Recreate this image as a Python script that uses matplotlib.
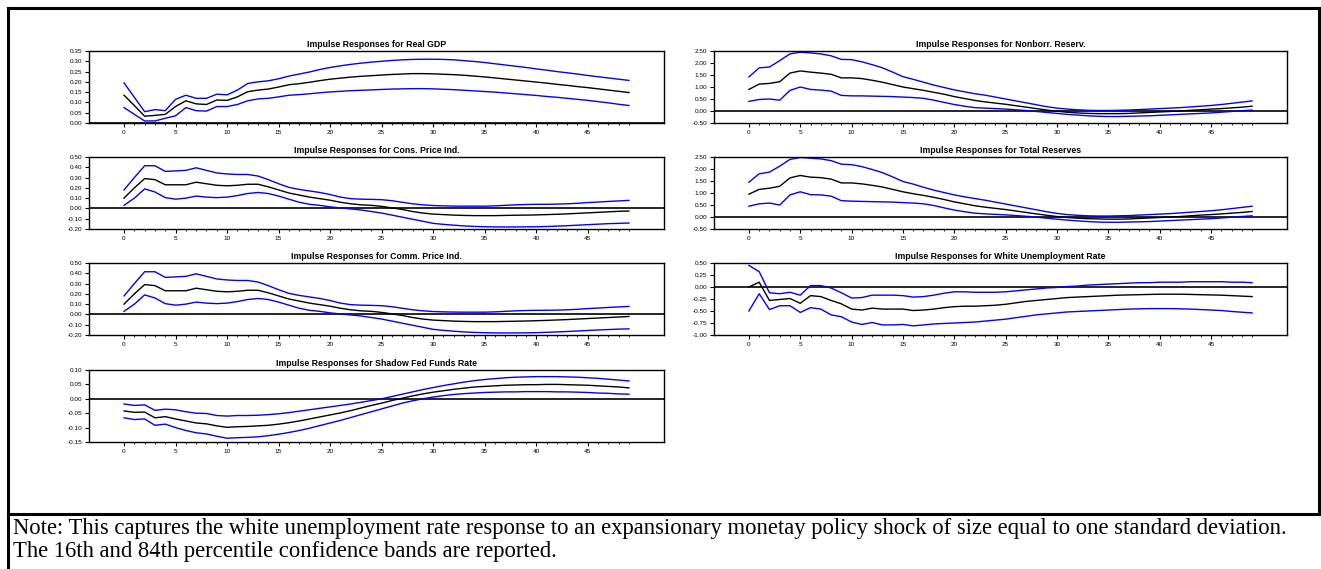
import numpy as np
import matplotlib
matplotlib.use("Agg")
import matplotlib.pyplot as plt
from matplotlib.lines import Line2D
from matplotlib.ticker import MultipleLocator, FormatStrFormatter

# horizons 0..49
steps = list(range(50))

gdp_mid = [0.135, 0.085, 0.033, 0.037, 0.042, 0.08, 0.108, 0.093, 0.09, 0.112,
           0.11, 0.127, 0.152, 0.16, 0.165, 0.175, 0.186, 0.191, 0.198, 0.206,
           0.213, 0.218, 0.223, 0.227, 0.23, 0.233, 0.236, 0.238, 0.24, 0.24,
           0.239, 0.237, 0.235, 0.232, 0.228, 0.224, 0.219, 0.214, 0.209, 0.204,
           0.199, 0.194, 0.188, 0.183, 0.177, 0.172, 0.166, 0.16, 0.154, 0.148]
gdp_up = [0.195, 0.125, 0.055, 0.065, 0.06, 0.115, 0.135, 0.12, 0.12, 0.14,
          0.137, 0.16, 0.192, 0.2, 0.205, 0.215, 0.228, 0.238, 0.248, 0.26,
          0.27, 0.278, 0.285, 0.291, 0.296, 0.3, 0.304, 0.307, 0.309, 0.31,
          0.31, 0.309, 0.307, 0.303, 0.299, 0.294, 0.288, 0.282, 0.276, 0.27,
          0.263, 0.257, 0.25, 0.244, 0.238, 0.231, 0.225, 0.219, 0.213, 0.207]
gdp_lo = [0.075, 0.042, 0.01, 0.01, 0.023, 0.035, 0.075, 0.06, 0.058, 0.08,
          0.08, 0.09, 0.108, 0.117, 0.12, 0.127, 0.135, 0.138, 0.142, 0.147,
          0.151, 0.154, 0.157, 0.159, 0.161, 0.163, 0.165, 0.166, 0.167, 0.167,
          0.166, 0.164, 0.162, 0.159, 0.156, 0.153, 0.15, 0.146, 0.142, 0.138,
          0.134, 0.129, 0.125, 0.12, 0.115, 0.11, 0.104, 0.098, 0.091, 0.085]

nbr_mid = [0.9, 1.12, 1.15, 1.22, 1.58, 1.67, 1.62, 1.58, 1.53, 1.38,
           1.38, 1.35, 1.28, 1.2, 1.1, 1.0, 0.93, 0.86, 0.78, 0.7,
           0.6, 0.52, 0.44, 0.38, 0.33, 0.28, 0.22, 0.16, 0.1, 0.04,
           -0.01, -0.05, -0.08, -0.1, -0.11, -0.11, -0.11, -0.1, -0.08, -0.06,
           -0.04, -0.02, 0.0, 0.03, 0.05, 0.08, 0.1, 0.13, 0.16, 0.2]
nbr_up = [1.42, 1.8, 1.83, 2.1, 2.38, 2.45, 2.42, 2.38, 2.3, 2.15,
          2.14, 2.05, 1.93, 1.8, 1.62, 1.43, 1.32, 1.2, 1.08, 0.98,
          0.88, 0.8, 0.72, 0.66, 0.58, 0.5, 0.42, 0.34, 0.26, 0.18,
          0.12, 0.08, 0.05, 0.03, 0.02, 0.02, 0.03, 0.04, 0.06, 0.08,
          0.1, 0.12, 0.14, 0.17, 0.2, 0.23, 0.27, 0.32, 0.37, 0.42]
nbr_lo = [0.4, 0.48, 0.5, 0.45, 0.86, 1.0, 0.9, 0.87, 0.83, 0.65,
          0.63, 0.63, 0.62, 0.61, 0.6, 0.58, 0.56, 0.53, 0.45, 0.36,
          0.27, 0.2, 0.14, 0.12, 0.1, 0.08, 0.05, 0.02, -0.02, -0.06,
          -0.1, -0.14, -0.17, -0.2, -0.22, -0.23, -0.23, -0.22, -0.21, -0.2,
          -0.18, -0.16, -0.14, -0.12, -0.1, -0.08, -0.05, -0.02, 0.01, 0.04]

cpi_mid = [0.1, 0.2, 0.29, 0.28, 0.23, 0.23, 0.23, 0.255, 0.24, 0.225,
           0.22, 0.225, 0.235, 0.235, 0.21, 0.18, 0.15, 0.13, 0.11, 0.095,
           0.08, 0.06, 0.045, 0.035, 0.03, 0.02, 0.005, -0.01, -0.03, -0.045,
           -0.055, -0.06, -0.065, -0.068, -0.07, -0.07, -0.07, -0.068, -0.066, -0.065,
           -0.063, -0.06, -0.057, -0.053, -0.048, -0.043, -0.038, -0.033, -0.028, -0.025]
cpi_up = [0.18, 0.3, 0.415, 0.415, 0.36, 0.365, 0.37, 0.395, 0.37, 0.345,
          0.335, 0.33, 0.33, 0.315, 0.28, 0.24, 0.205, 0.185, 0.17, 0.155,
          0.135, 0.11, 0.095, 0.09, 0.088, 0.085, 0.075, 0.06, 0.045, 0.035,
          0.028, 0.025, 0.023, 0.022, 0.022, 0.022, 0.025, 0.03, 0.035, 0.038,
          0.04, 0.04, 0.042, 0.045, 0.05, 0.057, 0.062, 0.068, 0.073, 0.078]
cpi_lo = [0.03, 0.1, 0.19, 0.16, 0.105, 0.09, 0.1, 0.12, 0.11, 0.105,
          0.11, 0.125, 0.145, 0.155, 0.145, 0.12, 0.09, 0.06, 0.04, 0.03,
          0.015, 0.005, -0.005, -0.015, -0.03, -0.045, -0.065, -0.085, -0.105, -0.125,
          -0.145, -0.155, -0.163, -0.17, -0.175, -0.178, -0.18, -0.18, -0.18, -0.179,
          -0.178, -0.176, -0.172, -0.168, -0.163, -0.158, -0.153, -0.148, -0.145, -0.142]

tr_mid = [0.95, 1.15, 1.2, 1.28, 1.63, 1.73, 1.66, 1.64, 1.58, 1.42,
          1.42, 1.38, 1.32, 1.25, 1.15, 1.05, 0.97, 0.9, 0.82, 0.73,
          0.63, 0.55, 0.47, 0.41, 0.36, 0.31, 0.25, 0.19, 0.13, 0.07,
          0.02, -0.02, -0.05, -0.07, -0.08, -0.09, -0.09, -0.08, -0.06, -0.04,
          -0.02, 0.0, 0.02, 0.05, 0.08, 0.1, 0.13, 0.16, 0.19, 0.23]
tr_up = [1.45, 1.8, 1.87, 2.12, 2.4, 2.48, 2.45, 2.42, 2.35, 2.2,
         2.18, 2.1, 1.98, 1.85, 1.67, 1.48, 1.37, 1.24, 1.12, 1.02,
         0.92, 0.84, 0.77, 0.7, 0.62, 0.54, 0.46, 0.38, 0.3, 0.22,
         0.15, 0.1, 0.07, 0.05, 0.04, 0.04, 0.05, 0.06, 0.08, 0.1,
         0.12, 0.14, 0.17, 0.2, 0.23, 0.26, 0.3, 0.35, 0.4, 0.45]
tr_lo = [0.45, 0.55, 0.58, 0.5, 0.92, 1.05, 0.93, 0.92, 0.87, 0.68,
         0.66, 0.65, 0.64, 0.63, 0.62, 0.6, 0.58, 0.55, 0.48, 0.38,
         0.29, 0.22, 0.16, 0.13, 0.11, 0.09, 0.06, 0.03, -0.01, -0.05,
         -0.09, -0.13, -0.16, -0.19, -0.21, -0.22, -0.22, -0.21, -0.2, -0.19,
         -0.17, -0.15, -0.13, -0.11, -0.09, -0.07, -0.04, -0.01, 0.02, 0.05]

comm_mid = [0.1, 0.2, 0.29, 0.28, 0.23, 0.23, 0.23, 0.255, 0.24, 0.225,
            0.22, 0.225, 0.235, 0.235, 0.21, 0.18, 0.15, 0.13, 0.11, 0.095,
            0.08, 0.06, 0.045, 0.035, 0.03, 0.02, 0.005, -0.01, -0.03, -0.045,
            -0.055, -0.06, -0.065, -0.068, -0.07, -0.07, -0.07, -0.068, -0.066, -0.064,
            -0.061, -0.058, -0.054, -0.05, -0.045, -0.04, -0.035, -0.03, -0.025, -0.02]
comm_up = [0.18, 0.3, 0.415, 0.415, 0.36, 0.365, 0.37, 0.395, 0.37, 0.345,
           0.335, 0.33, 0.33, 0.315, 0.28, 0.24, 0.205, 0.185, 0.17, 0.155,
           0.135, 0.11, 0.095, 0.09, 0.088, 0.085, 0.075, 0.06, 0.045, 0.035,
           0.028, 0.025, 0.023, 0.022, 0.022, 0.022, 0.025, 0.03, 0.035, 0.038,
           0.04, 0.04, 0.042, 0.045, 0.05, 0.057, 0.062, 0.068, 0.073, 0.078]
comm_lo = [0.03, 0.1, 0.19, 0.16, 0.105, 0.09, 0.1, 0.12, 0.11, 0.105,
           0.11, 0.125, 0.145, 0.155, 0.145, 0.12, 0.09, 0.06, 0.04, 0.03,
           0.015, 0.005, -0.005, -0.015, -0.03, -0.045, -0.065, -0.085, -0.105, -0.125,
           -0.145, -0.155, -0.163, -0.17, -0.175, -0.178, -0.18, -0.18, -0.18, -0.179,
           -0.177, -0.174, -0.17, -0.166, -0.161, -0.156, -0.151, -0.147, -0.143, -0.14]

wu_mid = [0.0, 0.1, -0.28, -0.26, -0.24, -0.34, -0.18, -0.2, -0.28, -0.35,
          -0.46, -0.48, -0.44, -0.46, -0.46, -0.46, -0.49, -0.48, -0.46, -0.43,
          -0.41, -0.4, -0.4, -0.39, -0.38, -0.36, -0.33, -0.3, -0.28, -0.26,
          -0.24, -0.22, -0.21, -0.2, -0.19, -0.18, -0.17, -0.165, -0.16, -0.155,
          -0.15, -0.15, -0.15, -0.155, -0.16, -0.165, -0.17, -0.18, -0.19, -0.2]
wu_up = [0.45, 0.32, -0.12, -0.14, -0.11, -0.17, 0.03, 0.03, -0.02, -0.12,
         -0.23, -0.22, -0.17, -0.17, -0.17, -0.18, -0.21, -0.2, -0.17, -0.13,
         -0.1, -0.1, -0.11, -0.11, -0.11, -0.1, -0.08, -0.06, -0.04, -0.02,
         -0.01, 0.01, 0.02, 0.04, 0.05, 0.06, 0.07, 0.08, 0.09, 0.09,
         0.1, 0.1, 0.1, 0.11, 0.11, 0.11, 0.11, 0.1, 0.1, 0.09]
wu_lo = [-0.5, -0.14, -0.47, -0.39, -0.39, -0.53, -0.43, -0.46, -0.58, -0.62,
         -0.73, -0.78, -0.74, -0.79, -0.79, -0.78, -0.81, -0.79, -0.77, -0.76,
         -0.75, -0.74, -0.73, -0.71, -0.69, -0.67, -0.64, -0.61, -0.58, -0.56,
         -0.54, -0.52, -0.51, -0.5, -0.49, -0.48, -0.47, -0.46, -0.455, -0.45,
         -0.45, -0.45, -0.455, -0.46, -0.47, -0.48, -0.49, -0.51, -0.525, -0.54]

ffr_mid = [-0.042, -0.047, -0.046, -0.066, -0.062, -0.07, -0.077, -0.084, -0.087, -0.094,
           -0.099, -0.097, -0.096, -0.094, -0.092, -0.088, -0.083, -0.077, -0.07, -0.063,
           -0.056, -0.049, -0.041, -0.032, -0.023, -0.015, -0.006, 0.002, 0.01, 0.017,
           0.023, 0.028, 0.033, 0.037, 0.041, 0.043, 0.045, 0.047, 0.048, 0.049,
           0.049, 0.05, 0.05, 0.049, 0.048, 0.047, 0.045, 0.043, 0.041, 0.038]
ffr_up = [-0.018, -0.023, -0.021, -0.04, -0.036, -0.038, -0.045, -0.05, -0.051, -0.058,
          -0.06, -0.058, -0.058, -0.057, -0.055, -0.052, -0.048, -0.043, -0.038, -0.033,
          -0.028, -0.023, -0.018, -0.012, -0.006, 0.0, 0.008, 0.016, 0.024, 0.032,
          0.039, 0.046, 0.052, 0.058, 0.063, 0.067, 0.07, 0.073, 0.075, 0.076,
          0.077, 0.077, 0.077, 0.076, 0.075, 0.073, 0.071, 0.068, 0.065, 0.062]
ffr_lo = [-0.066, -0.072, -0.07, -0.092, -0.088, -0.1, -0.11, -0.118, -0.122, -0.13,
          -0.137, -0.135, -0.134, -0.132, -0.128, -0.123, -0.117, -0.11, -0.102, -0.093,
          -0.084, -0.075, -0.065, -0.055, -0.045, -0.035, -0.025, -0.015, -0.007, 0.0,
          0.006, 0.011, 0.015, 0.018, 0.02, 0.022, 0.023, 0.024, 0.024, 0.025,
          0.025, 0.025, 0.024, 0.024, 0.023, 0.022, 0.02, 0.019, 0.017, 0.016]

titles = ["Impulse Responses for Real GDP", "Impulse Responses for Nonborr. Reserv.",
          "Impulse Responses for Cons. Price Ind.", "Impulse Responses for Total Reserves",
          "Impulse Responses for Comm. Price Ind.", "Impulse Responses for White Unemployment Rate",
          "Impulse Responses for Shadow Fed Funds Rate"]
series = [(gdp_mid, gdp_lo, gdp_up), (nbr_mid, nbr_lo, nbr_up),
          (cpi_mid, cpi_lo, cpi_up), (tr_mid, tr_lo, tr_up),
          (comm_mid, comm_lo, comm_up), (wu_mid, wu_lo, wu_up),
          (ffr_mid, ffr_lo, ffr_up)]
ylims = [(0.0, 0.35), (-0.5, 2.5), (-0.2, 0.5), (-0.5, 2.5),
         (-0.2, 0.5), (-1.0, 0.5), (-0.15, 0.10)]
ysteps = [0.05, 0.5, 0.1, 0.5, 0.1, 0.25, 0.05]

W, H = 1321, 569
fig = plt.figure(figsize=(W / 100, H / 100), dpi=100)

# panel geometry in pixels
col_x = [89, 714]
col_w = [575, 573]
row_top = [51, 157, 263, 370]
ax_h = 72

for i in range(7):
    r, c = i // 2, i % 2
    left = col_x[c] / W
    bottom = 1 - (row_top[r] + ax_h) / H
    ax = fig.add_axes([left, bottom, col_w[c] / W, ax_h / H])
    mid, lo, up = series[i]
    ax.plot(steps, up, color='#0000ff', lw=1)
    ax.plot(steps, lo, color='#0000ff', lw=1)
    ax.plot(steps, mid, color='black', lw=1)
    ax.axhline(0, color='black', lw=1.2, zorder=0)
    ax.set_xlim(-3.4, 52.4)
    ax.set_ylim(*ylims[i])
    ax.yaxis.set_major_locator(MultipleLocator(ysteps[i]))
    ax.yaxis.set_major_formatter(FormatStrFormatter('%.2f'))
    ax.set_xticks(range(0, 50, 5))
    ax.set_xticks(range(0, 50), minor=True)
    ax.tick_params(axis='both', which='major', labelsize=4.6, length=3, width=0.8, pad=2)
    ax.tick_params(axis='x', which='minor', length=1.5, width=0.6)
    for lab in ax.get_xticklabels() + ax.get_yticklabels():
        lab.set_family('Liberation Sans')
    for s in ax.spines.values():
        s.set_linewidth(1)
    ax.set_title(titles[i], fontsize=6.3, fontweight='bold', family='Liberation Sans', pad=3)

# outer frame and note separator
frame_kw = dict(color='black', lw=2.2, transform=fig.transFigure)
fig.add_artist(Line2D([8 / W, 8 / W], [0, 1 - 8 / H], **frame_kw))
fig.add_artist(Line2D([1319 / W, 1319 / W], [1 - 514 / H, 1 - 8 / H], **frame_kw))
fig.add_artist(Line2D([8 / W, 1319 / W], [1 - 8 / H, 1 - 8 / H], **frame_kw))
fig.add_artist(Line2D([8 / W, 1321 / W], [1 - 514 / H, 1 - 514 / H], **frame_kw))

note1 = ("Note: This captures the white unemployment rate response to an expansionary "
         "monetay policy shock of size equal to one standard deviation.")
note2 = "The 16th and 84th percentile confidence bands are reported."
fig.text(13 / W, 1 - 534 / H, note1, fontsize=16.3, family='Liberation Serif', va='baseline')
fig.text(13 / W, 1 - 557 / H, note2, fontsize=16.3, family='Liberation Serif', va='baseline')

fig.savefig('out.png', dpi=100)
